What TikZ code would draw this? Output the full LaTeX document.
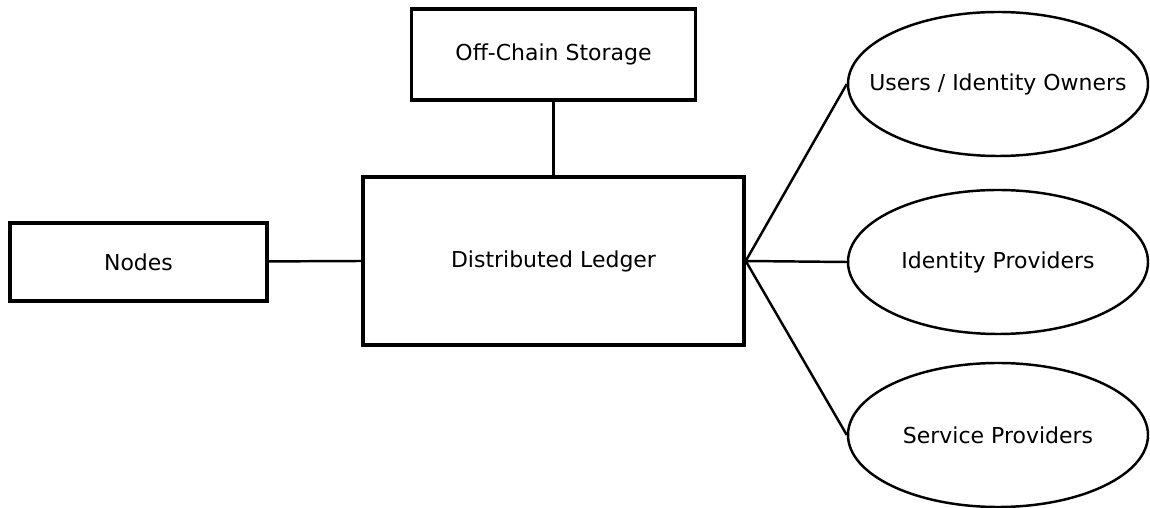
\documentclass[tikz,border=0pt]{standalone}
\usepackage{fontspec}
\setmainfont{DejaVu Sans}
\usetikzlibrary{shapes.geometric}

\begin{document}
\begin{tikzpicture}[
    box/.style={draw, rectangle, line width=2pt, inner sep=0pt, font=\fontsize{12.5}{15}\selectfont},
    party/.style={draw, ellipse, line width=1.4pt, inner xsep=-1.5cm, inner ysep=0pt, minimum width=6cm, minimum height=2.88cm, font=\fontsize{12.5}{15}\selectfont},
    link/.style={line width=1.4pt}
]
    \useasboundingbox (0,0) rectangle (23,10.16);

    % Ledger and the boxes around it
    \node[box, minimum width=7.62cm, minimum height=3.36cm] (ledger) at (11.07,4.94) {Distributed Ledger};
    \node[box, minimum width=5.68cm, minimum height=1.82cm] (storage) at (11.07,9.07) {Off-Chain Storage};
    \node[box, minimum width=5.14cm, minimum height=1.56cm] (nodes) at (2.77,4.92) {Nodes};

    % Parties on the right
    \node[party] (users) at (19.96,8.48) {Users / Identity Owners};
    \node[party] (idp) at (19.96,4.92) {Identity Providers};
    \node[party] (sp) at (19.96,1.46) {Service Providers};

    % Links
    \draw[link] (storage) -- (ledger);
    \draw[link] (nodes) -- (ledger.west);
    \draw[link] (ledger.east) -- (users.west);
    \draw[link] (ledger.east) -- (idp.west);
    \draw[link] (ledger.east) -- (sp.west);
\end{tikzpicture}
\end{document}
